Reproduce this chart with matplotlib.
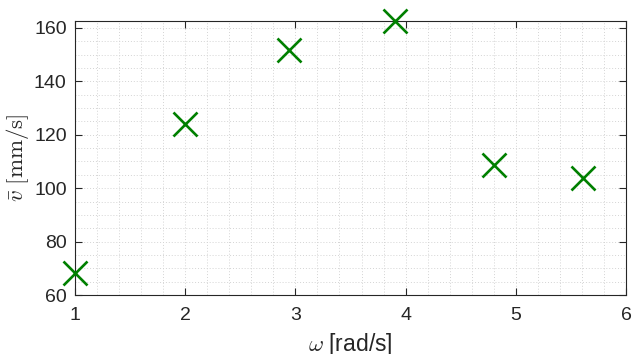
import numpy as np
import matplotlib
matplotlib.use('Agg')
import matplotlib.pyplot as plt
from matplotlib.ticker import MultipleLocator

# angular speed vs. mean velocity
omega = [1.0, 2.0, 2.94, 3.9, 4.8, 5.61]
v_mean = [68.2, 124.2, 151.8, 162.6, 108.7, 103.8]

plt.rcParams['font.family'] = ['Liberation Sans', 'DejaVu Sans']
plt.rcParams['mathtext.fontset'] = 'cm'

fig = plt.figure(figsize=(6.32, 3.54), dpi=100)
ax = fig.add_axes([75/632, 1 - 295/354, (626 - 75)/632, (295 - 21)/354])

ax.plot(omega, v_mean, 'x', color=(0, 0.5, 0), ms=17, mew=1.9, clip_on=False, zorder=5)

ax.set_xlim(1, 6)
ax.set_ylim(60, max(v_mean))
ax.xaxis.set_major_locator(MultipleLocator(1))
ax.yaxis.set_major_locator(MultipleLocator(20))
ax.xaxis.set_minor_locator(MultipleLocator(0.2))
ax.yaxis.set_minor_locator(MultipleLocator(5))

ax.grid(which='both', color='#d4d4d4', ls=(0, (1, 2)), lw=0.7)
ax.tick_params(which='major', direction='in', top=True, right=True,
               length=5, width=0.8, colors='#262626', labelsize=14)
ax.tick_params(axis='x', which='major', pad=9)
ax.tick_params(axis='y', which='major', pad=6)
ax.tick_params(which='minor', length=0)
for s in ax.spines.values():
    s.set_color('#262626')
    s.set_linewidth(0.8)

ax.set_xlabel(r'$\omega$ [rad/s]', fontsize=16.5, color='#262626', labelpad=5)
ax.set_ylabel(r'$\bar{v}\ [\mathrm{mm/s}]$', fontsize=16.5, color='#262626', labelpad=2)

fig.savefig('out.png', dpi=100)
